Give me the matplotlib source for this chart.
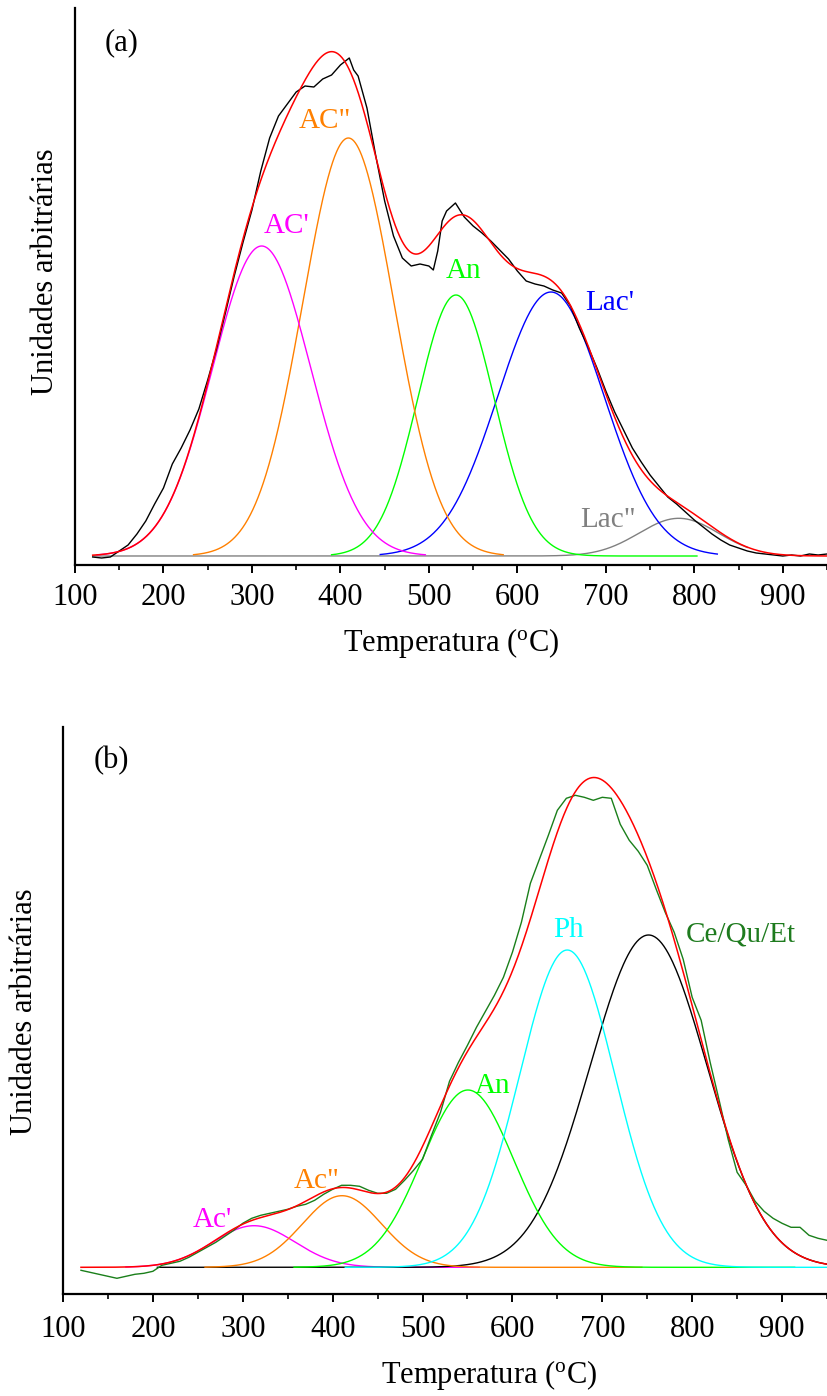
import numpy as np
import matplotlib
matplotlib.use("Agg")
import matplotlib.pyplot as plt

plt.rcParams['font.family'] = ['Liberation Serif', 'DejaVu Serif']
plt.rcParams['mathtext.fontset'] = 'custom'
plt.rcParams['mathtext.rm'] = 'Liberation Serif'
plt.rcParams['mathtext.it'] = 'Liberation Serif:italic'

# ---------------- Panel (a) data ----------------
a_names = ["AC'", 'AC"', "An", "Lac'", 'Lac"']
a_colors = ['#FF00FF', '#FF8000', '#00FF00', '#0000FF', '#808080']
a_centers = [311.0, 409.0, 530.6, 638.0, 782.5]
a_heights = [3.10, 4.18, 2.61, 2.64, 0.377]
a_sigmas = [55.5, 51.5, 43.0, 60.0, 45.0]
a_start = [125, 234, 390, 445, 120]
a_end = [496, 584, 803, 826, 860]

a_T = [120, 130, 140, 150, 160, 170, 180, 190, 200, 210, 220, 230, 240, 250, 260,
       270, 280, 290, 300, 310, 320, 330, 340, 350, 360, 370, 380, 390, 400, 410,
       415, 420, 430, 440, 450, 460, 470, 480, 490, 500, 505, 510, 515, 520, 530,
       540, 550, 560, 570, 580, 590, 600, 610, 620, 630, 640, 650, 660, 670, 680,
       690, 700, 710, 720, 730, 740, 750, 760, 770, 780, 790, 800, 810, 820, 830,
       840, 850, 860, 870, 880, 890, 900, 910, 920, 930, 940, 950]
a_meas = [-0.01, -0.02, -0.01, 0.05, 0.11, 0.22, 0.35, 0.52, 0.68, 0.92, 1.08, 1.26,
          1.47, 1.76, 2.07, 2.43, 2.80, 3.14, 3.46, 3.85, 4.18, 4.40, 4.52, 4.64,
          4.70, 4.69, 4.77, 4.81, 4.91, 4.98, 4.86, 4.80, 4.48, 4.00, 3.55, 3.20,
          2.98, 2.90, 2.92, 2.90, 2.86, 3.05, 3.35, 3.45, 3.53, 3.39, 3.30, 3.23,
          3.15, 3.06, 2.97, 2.85, 2.75, 2.72, 2.70, 2.66, 2.63, 2.50, 2.28, 2.09,
          1.88, 1.65, 1.44, 1.26, 1.08, 0.94, 0.81, 0.70, 0.59, 0.52, 0.44, 0.36,
          0.29, 0.22, 0.16, 0.11, 0.08, 0.05, 0.03, 0.02, 0.01, 0.00, 0.01, 0.00,
          0.02, 0.01, 0.02]

# ---------------- Panel (b) data ----------------
b_names = ["Ac'", 'Ac"', "An", "Ph", "Ce/Qu/Et"]
b_colors = ['#FF00FF', '#FF8000', '#00FF00', '#00FFFF', '#000000']
b_label_colors = ['#FF00FF', '#FF8000', '#00FF00', '#00FFFF', '#1E7B1E']
b_centers = [312.5, 410.4, 550.5, 661.0, 751.5]
b_heights = [0.416, 0.716, 1.773, 3.173, 3.323]
b_sigmas = [45.6, 44.0, 51.0, 53.0, 65.0]
b_start = [170, 258, 357, 414, 205]
b_end = [563, 744, 914, 950, 950]

b_T = [120, 130, 140, 150, 160, 170, 180, 190, 200, 205, 210, 220, 230, 240, 250,
       260, 270, 280, 290, 300, 310, 320, 330, 340, 350, 360, 370, 380, 390, 400,
       410, 420, 430, 440, 450, 460, 470, 480, 490, 500, 510, 520, 530, 540, 550,
       560, 570, 580, 590, 600, 610, 620, 630, 640, 650, 660, 670, 680, 690, 700,
       710, 720, 730, 740, 750, 760, 770, 780, 790, 800, 810, 820, 830, 840, 850,
       860, 870, 880, 890, 900, 910, 920, 930, 940, 950]
b_meas = [-0.03, -0.05, -0.07, -0.09, -0.11, -0.09, -0.07, -0.06, -0.04, -0.01,
          0.02, 0.04, 0.06, 0.10, 0.15, 0.20, 0.25, 0.31, 0.37, 0.44, 0.49, 0.52,
          0.54, 0.56, 0.58, 0.61, 0.63, 0.67, 0.73, 0.78, 0.82, 0.82, 0.81, 0.77,
          0.74, 0.74, 0.78, 0.87, 0.97, 1.08, 1.32, 1.55, 1.86, 2.05, 2.22, 2.40,
          2.56, 2.72, 2.90, 3.15, 3.45, 3.84, 4.08, 4.32, 4.57, 4.69, 4.72, 4.70,
          4.67, 4.70, 4.69, 4.43, 4.27, 4.16, 4.02, 3.78, 3.55, 3.35, 3.08, 2.70,
          2.47, 2.05, 1.67, 1.28, 0.95, 0.82, 0.66, 0.56, 0.49, 0.44, 0.40, 0.40,
          0.32, 0.29, 0.27]

x_major = [100, 200, 300, 400, 500, 600, 700, 800, 900]
x_tick_labels = ['100', '200', '300', '400', '500', '600', '700', '800', '900']


def gauss(t, c, h, s):
    return h * np.exp(-(t - c) ** 2 / (2 * s ** 2))


W, H = 827, 1396
fig = plt.figure(figsize=(W / 100, H / 100), dpi=100)

ax1 = fig.add_axes([75 / W, 1 - 565 / H, 1 - 75 / W, (565 - 8) / H])
ax2 = fig.add_axes([63 / W, 1 - 1294 / H, 1 - 63 / W, (1294 - 727) / H])


def style(ax, xmax, ymin, ymax, pad):
    ax.set_xlim(100, xmax)
    ax.set_ylim(ymin, ymax)
    for s in ['top', 'right']:
        ax.spines[s].set_visible(False)
    for s in ['left', 'bottom']:
        ax.spines[s].set_linewidth(1.6)
    ax.set_yticks([])
    ax.set_xticks(x_major)
    ax.set_xticklabels(x_tick_labels)
    ax.set_xticks(np.arange(150, 1000, 100), minor=True)
    ax.tick_params(axis='x', which='major', direction='out', length=6, width=1.4,
                   labelsize=22, pad=pad)
    ax.tick_params(axis='x', which='minor', direction='out', length=3.5, width=1.2)


style(ax1, 950, -0.09, 5.48, 7)
style(ax2, 947, -0.267, 5.403, 9)

# ---- panel (a) curves ----
order_a = [4, 3, 2, 1, 0]
for i in order_a:
    t = np.linspace(a_start[i], a_end[i], 600)
    ax1.plot(t, gauss(t, a_centers[i], a_heights[i], a_sigmas[i]),
             color=a_colors[i], lw=1.0, zorder=2)
ax1.plot(a_T, a_meas, color='black', lw=1.0, zorder=3)
tf = np.linspace(120, 950, 1200)
fit_a = sum(gauss(tf, c, h, s) for c, h, s in zip(a_centers, a_heights, a_sigmas))
ax1.plot(tf, fit_a, color='#FF0000', lw=1.1, zorder=4)

lab_a = [(313, 3.23), (353, 4.28), (518.6, 2.78), (677, 2.46), (671, 0.29)]
for i, (tx, ty) in enumerate(lab_a):
    ax1.text(tx, ty, a_names[i], color=a_colors[i], fontsize=21,
             ha='left', va='baseline')
ax1.text(134, 5.06, '(a)', fontsize=22, ha='left', va='baseline')

# ---- panel (b) curves ----
order_b = [0, 4, 1, 2, 3]
for i in order_b:
    t = np.linspace(b_start[i], b_end[i], 600)
    ax2.plot(t, gauss(t, b_centers[i], b_heights[i], b_sigmas[i]),
             color=b_colors[i], lw=1.0, zorder=2)
ax2.plot(b_T, b_meas, color='#1A7F1A', lw=1.0, zorder=3)
fit_b = sum(gauss(tf, c, h, s) for c, h, s in zip(b_centers, b_heights, b_sigmas))
ax2.plot(tf, fit_b, color='#FF0000', lw=1.1, zorder=4)

lab_b = [(244, 0.406), (357, 0.793), (558.6, 1.743), (645.5, 3.306), (793, 3.256)]
for i, (tx, ty) in enumerate(lab_b):
    ax2.text(tx, ty, b_names[i], color=b_label_colors[i], fontsize=21,
             ha='left', va='baseline')
ax2.text(134.4, 4.993, '(b)', fontsize=22, ha='left', va='baseline')

# axis labels
xl = r'Temperatura ($^{\mathrm{o}}$C)'
fig.text(451 / W, 1 - 643 / H, xl, fontsize=22, ha='center', va='center')
fig.text(489 / W, 1 - 1375 / H, xl, fontsize=22, ha='center', va='center')
fig.text(46 / W, 1 - 272 / H, 'Unidades arbitrárias', fontsize=22, rotation=90,
         ha='center', va='center')
fig.text(25 / W, 1 - 1012 / H, 'Unidades arbitrárias', fontsize=22, rotation=90,
         ha='center', va='center')

fig.savefig('out.png', dpi=100)
